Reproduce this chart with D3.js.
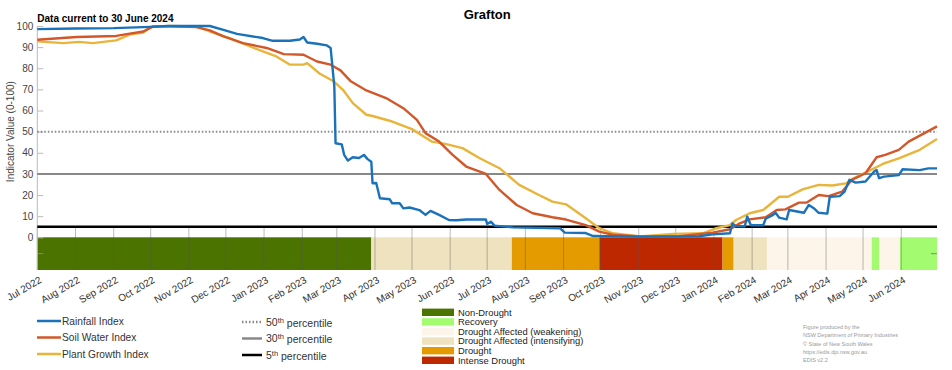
<!DOCTYPE html>
<html>
<head>
<meta charset="utf-8">
<script src="https://cdn.jsdelivr.net/npm/d3@7"></script>
<style>
  body { margin: 0; background: #fff; }
  svg { font-family: "Liberation Sans", Arial, sans-serif; }
</style>
</head>
<body>
<svg id="chart" width="952" height="370"></svg>
<script>
// data
const rainfall = [
  ["2022-07-01", 98.5], ["2022-08-01", 98.8], ["2022-09-01", 99.0], ["2022-10-01", 99.6],
  ["2022-10-15", 100], ["2022-11-18", 100], ["2022-11-29", 98.2], ["2022-12-10", 96.3],
  ["2022-12-31", 94.3], ["2023-01-08", 93.0], ["2023-01-22", 93.0], ["2023-01-30", 93.6],
  ["2023-02-02", 94.8], ["2023-02-05", 92.2], ["2023-02-13", 91.6], ["2023-02-21", 90.8],
  ["2023-02-24", 89.6], ["2023-02-27", 71.4], ["2023-02-28", 44.5], ["2023-03-05", 44.0],
  ["2023-03-07", 39.0], ["2023-03-10", 36.3], ["2023-03-14", 37.9], ["2023-03-19", 37.5],
  ["2023-03-23", 39.0], ["2023-03-26", 37.0], ["2023-03-29", 35.8], ["2023-03-30", 25.6],
  ["2023-04-02", 25.7], ["2023-04-05", 18.5], ["2023-04-13", 18.0], ["2023-04-15", 16.1],
  ["2023-04-21", 16.1], ["2023-04-24", 13.7], ["2023-04-29", 14.1], ["2023-05-07", 12.9],
  ["2023-05-12", 10.6], ["2023-05-16", 12.5], ["2023-05-23", 10.6], ["2023-05-31", 8.2],
  ["2023-06-06", 8.1], ["2023-06-14", 8.4], ["2023-06-30", 8.4], ["2023-07-01", 6.3],
  ["2023-07-04", 7.4], ["2023-07-07", 5.5], ["2023-07-22", 4.7], ["2023-08-29", 4.3],
  ["2023-09-02", 2.2], ["2023-09-19", 2.0], ["2023-09-25", 0.6], ["2023-11-02", 0.3],
  ["2023-12-20", 0.5], ["2023-12-31", 1.4], ["2024-01-14", 1.9], ["2024-01-16", 6.6],
  ["2024-01-19", 5.2], ["2024-01-26", 5.2], ["2024-01-28", 9.8], ["2024-01-31", 5.7],
  ["2024-02-10", 5.7], ["2024-02-12", 8.8], ["2024-02-18", 10.6], ["2024-02-20", 11.6],
  ["2024-02-23", 9.3], ["2024-02-29", 8.5], ["2024-03-02", 12.9], ["2024-03-14", 11.6],
  ["2024-03-18", 15.3], ["2024-03-22", 13.8], ["2024-03-26", 11.6], ["2024-04-02", 11.2],
  ["2024-04-04", 19.2], ["2024-04-12", 19.5], ["2024-04-16", 21.6], ["2024-04-20", 27.2],
  ["2024-04-25", 25.9], ["2024-05-03", 26.4], ["2024-05-10", 31.1], ["2024-05-12", 31.8],
  ["2024-05-14", 28.0], ["2024-05-18", 28.7], ["2024-05-30", 29.4], ["2024-06-02", 32.2],
  ["2024-06-16", 31.8], ["2024-06-23", 32.6], ["2024-06-30", 32.6]
];

const soilWater = [
  ["2022-07-01", 93.5], ["2022-08-02", 94.8], ["2022-09-03", 95.3], ["2022-09-14", 96.4],
  ["2022-09-25", 97.4], ["2022-10-03", 99.8], ["2022-10-16", 99.8], ["2022-11-07", 99.5],
  ["2022-11-18", 97.9], ["2022-11-29", 95.1], ["2022-12-15", 91.9], ["2023-01-03", 89.6],
  ["2023-01-17", 86.7], ["2023-02-02", 86.4], ["2023-02-13", 83.2], ["2023-02-24", 81.7],
  ["2023-03-04", 79.0], ["2023-03-12", 74.0], ["2023-03-25", 69.5], ["2023-04-10", 65.9],
  ["2023-04-24", 61.1], ["2023-05-05", 55.6], ["2023-05-12", 49.3], ["2023-05-23", 45.3],
  ["2023-06-03", 39.0], ["2023-06-14", 33.5], ["2023-06-30", 30.0], ["2023-07-11", 22.4],
  ["2023-07-25", 15.3], ["2023-08-07", 11.4], ["2023-08-23", 9.5], ["2023-09-03", 8.4],
  ["2023-09-19", 5.8], ["2023-09-30", 2.7], ["2023-10-11", 1.2], ["2023-11-02", 0.4],
  ["2023-12-04", 0.5], ["2023-12-31", 2.2], ["2024-01-14", 3.8], ["2024-01-22", 6.6],
  ["2024-01-30", 8.5], ["2024-02-12", 9.5], ["2024-02-21", 12.9], ["2024-02-28", 13.2],
  ["2024-03-10", 16.4], ["2024-03-16", 16.4], ["2024-03-26", 20.0], ["2024-04-03", 19.5],
  ["2024-04-14", 21.6], ["2024-04-22", 27.2], ["2024-05-03", 30.3], ["2024-05-12", 37.9],
  ["2024-05-19", 39.0], ["2024-05-30", 41.4], ["2024-06-07", 45.3], ["2024-06-30", 52.5]
];

const plantGrowth = [
  ["2022-07-01", 92.7], ["2022-07-22", 91.9], ["2022-08-04", 92.5], ["2022-08-15", 91.9],
  ["2022-09-03", 93.2], ["2022-09-14", 95.9], ["2022-09-25", 96.9], ["2022-10-01", 99.5],
  ["2022-10-16", 100], ["2022-11-07", 99.8], ["2022-11-18", 97.4], ["2022-12-04", 94.3],
  ["2022-12-15", 91.6], ["2022-12-31", 88.0], ["2023-01-11", 85.6], ["2023-01-22", 81.7],
  ["2023-02-02", 81.7], ["2023-02-05", 82.4], ["2023-02-15", 77.5], ["2023-02-26", 74.0],
  ["2023-03-06", 69.8], ["2023-03-14", 63.5], ["2023-03-25", 58.0], ["2023-03-30", 57.4],
  ["2023-04-15", 54.8], ["2023-05-01", 51.2], ["2023-05-17", 45.3], ["2023-05-28", 44.2],
  ["2023-06-11", 42.2], ["2023-06-25", 37.4], ["2023-07-11", 32.7], ["2023-07-27", 24.8],
  ["2023-08-12", 20.0], ["2023-08-23", 16.9], ["2023-09-03", 15.6], ["2023-09-19", 9.0],
  ["2023-09-30", 4.3], ["2023-10-11", 1.9], ["2023-11-02", 0.4], ["2023-11-29", 1.6],
  ["2023-12-23", 1.9], ["2024-01-03", 4.3], ["2024-01-14", 5.8], ["2024-01-19", 8.2],
  ["2024-01-30", 11.4], ["2024-02-10", 12.9], ["2024-02-23", 19.2], ["2024-03-01", 19.2],
  ["2024-03-13", 22.7], ["2024-03-26", 24.8], ["2024-04-06", 24.5], ["2024-04-17", 25.5],
  ["2024-04-22", 27.5], ["2024-05-03", 30.6], ["2024-05-17", 34.7], ["2024-05-30", 37.4],
  ["2024-06-16", 41.4], ["2024-06-30", 46.5]
];

// drought status periods [start, end, category]
const droughtPeriods = [
  ["2022-07-01", "2023-03-29", "Non-Drought"],
  ["2023-03-29", "2023-07-21", "Drought Affected (intensifying)"],
  ["2023-07-21", "2023-09-30", "Drought"],
  ["2023-09-30", "2024-01-08", "Intense Drought"],
  ["2024-01-08", "2024-01-17", "Drought"],
  ["2024-01-17", "2024-02-13", "Drought Affected (intensifying)"],
  ["2024-02-13", "2024-05-08", "Drought Affected (weakening)"],
  ["2024-05-08", "2024-05-14", "Recovery"],
  ["2024-05-14", "2024-05-31", "Drought Affected (weakening)"],
  ["2024-05-31", "2024-06-30", "Recovery"]
];

const droughtCategories = ["Non-Drought", "Recovery", "Drought Affected (weakening)",
  "Drought Affected (intensifying)", "Drought", "Intense Drought"];
const droughtColours = ["#4b7300", "#a3fb70", "#fdf5e9", "#efe2bf", "#e49b00", "#be2800"];

const percentiles = [50, 30, 5];
const yTicks = [0, 10, 20, 30, 40, 50, 60, 70, 80, 90, 100];
const credits = ["Figure produced by the", "NSW Department of Primary Industries",
  "\u00a9 State of New South Wales", "https://edis.dpi.nsw.gov.au", "EDIS v2.2"];

const parse = d3.timeParse("%Y-%m-%d");
const svg = d3.select("#chart");

const margin = {left: 37.3, right: 15, top: 26, plotBottom: 237.3, bandBottom: 270};

const x = d3.scaleTime()
  .domain([parse("2022-07-01"), parse("2024-06-30")])
  .range([margin.left, 952 - margin.right]);
const y = d3.scaleLinear().domain([0, 100]).range([margin.plotBottom, margin.top]);
const colour = d3.scaleOrdinal().domain(droughtCategories).range(droughtColours);

// drought band
svg.append("g").selectAll("rect")
  .data(droughtPeriods)
  .join("rect")
  .attr("x", d => x(parse(d[0])))
  .attr("width", d => x(parse(d[1])) - x(parse(d[0])))
  .attr("y", margin.plotBottom)
  .attr("height", margin.bandBottom - margin.plotBottom)
  .attr("fill", d => colour(d[2]));

// month grid lines through the band
const months = d3.timeMonth.range(parse("2022-07-01"), parse("2024-07-01"));
svg.append("g").selectAll("line")
  .data(months)
  .join("line")
  .attr("x1", d => x(d)).attr("x2", d => x(d))
  .attr("y1", y(5)).attr("y2", margin.bandBottom)
  .attr("stroke", "#555").attr("stroke-opacity", 0.4).attr("stroke-width", 1);

// small ticks in the band
[x.range()[0], x.range()[1]].forEach((px, i) => {
  svg.append("line")
    .attr("x1", px).attr("x2", i ? px - 6 : px + 6)
    .attr("y1", (margin.plotBottom + margin.bandBottom) / 2)
    .attr("y2", (margin.plotBottom + margin.bandBottom) / 2)
    .attr("stroke", "#888");
});

// y axis
const yAxis = svg.append("g")
  .attr("transform", `translate(${margin.left},0)`)
  .call(d3.axisLeft(y).tickValues(yTicks).tickSize(-6).tickPadding(4));
yAxis.select(".domain").remove();
yAxis.selectAll(".tick line").attr("stroke", "#bbb");
yAxis.selectAll(".tick text").attr("fill", "#444").style("font-size", "10px");
svg.append("line")
  .attr("x1", margin.left).attr("x2", margin.left)
  .attr("y1", margin.top).attr("y2", margin.bandBottom)
  .attr("stroke", "#bbb");

// percentile lines
const pStyles = {50: {c: "#888", w: 2, dash: "1.5,2"}, 30: {c: "#888", w: 2, dash: null}, 5: {c: "#000", w: 2.5, dash: null}};
svg.append("g").selectAll("line")
  .data(percentiles)
  .join("line")
  .attr("x1", x.range()[0]).attr("x2", x.range()[1])
  .attr("y1", d => y(d)).attr("y2", d => y(d))
  .attr("stroke", d => pStyles[d].c)
  .attr("stroke-width", d => pStyles[d].w)
  .attr("stroke-dasharray", d => pStyles[d].dash);

// index lines
const line = d3.line().x(d => x(parse(d[0]))).y(d => y(d[1]));
const series = [
  {name: "Rainfall Index", data: rainfall, c: "#1a72bb"},
  {name: "Soil Water Index", data: soilWater, c: "#d2582a"},
  {name: "Plant Growth Index", data: plantGrowth, c: "#e9b43a"}
];
[series[2], series[1], series[0]].forEach(s => {
  svg.append("path")
    .datum(s.data)
    .attr("d", line)
    .attr("fill", "none")
    .attr("stroke", s.c)
    .attr("stroke-width", 2.4)
    .attr("stroke-linejoin", "round");
});

// x labels
svg.append("g").selectAll("text")
  .data(months)
  .join("text")
  .attr("transform", d => `translate(${x(d) + 5},${margin.bandBottom + 12}) rotate(-30)`)
  .attr("text-anchor", "end")
  .attr("fill", "#333")
  .style("font-size", "10px")
  .text(d3.timeFormat("%b %Y"));

// titles
svg.append("text").attr("x", (x.range()[0] + x.range()[1]) / 2).attr("y", 19)
  .attr("text-anchor", "middle").style("font-size", "13px").style("font-weight", "bold")
  .text("Grafton");
svg.append("text").attr("x", margin.left).attr("y", 21.5)
  .style("font-size", "10px").style("font-weight", "bold")
  .text("Data current to 30 June 2024");
svg.append("text")
  .attr("transform", `translate(14,${y(50)}) rotate(-90)`)
  .attr("text-anchor", "middle").attr("fill", "#444").style("font-size", "10px")
  .text("Indicator Value (0-100)");

// series legend
const leg1 = svg.append("g").selectAll("g").data(series).join("g")
  .attr("transform", (d, i) => `translate(37,${321 + i * 16.5})`);
leg1.append("line").attr("x1", 0).attr("x2", 24)
  .attr("stroke", d => d.c).attr("stroke-width", 2.5);
leg1.append("text").attr("x", 25).attr("dy", "0.35em")
  .attr("fill", "#333").style("font-size", "10.2px").text(d => d.name);

// percentile legend
const leg2 = svg.append("g").selectAll("g").data(percentiles).join("g")
  .attr("transform", (d, i) => `translate(242,${322 + i * 16.5})`);
leg2.append("line").attr("x1", 0).attr("x2", 20)
  .attr("stroke", d => pStyles[d].c).attr("stroke-width", 2.5)
  .attr("stroke-dasharray", d => pStyles[d].dash);
const t2 = leg2.append("text").attr("x", 24).attr("dy", "0.35em")
  .attr("fill", "#333").style("font-size", "10.5px");
t2.append("tspan").text(d => d);
t2.append("tspan").attr("dy", "-0.4em").style("font-size", "7.5px").text("th");
t2.append("tspan").attr("dy", "0.4em").text(" percentile");

// drought legend
const leg3 = svg.append("g").selectAll("g").data(droughtCategories).join("g")
  .attr("transform", (d, i) => `translate(422,${312.3 + i * 9.6})`);
leg3.append("rect").attr("x", 0).attr("y", -3.7).attr("width", 32).attr("height", 7.4)
  .attr("fill", d => colour(d));
leg3.append("text").attr("x", 36).attr("dy", "0.35em")
  .attr("fill", "#222").style("font-size", "9.4px").text(d => d);

// credits
svg.append("g").selectAll("text").data(credits).join("text")
  .attr("x", 803).attr("y", (d, i) => 329 + i * 8.3)
  .attr("fill", "#999").style("font-size", "5.5px").text(d => d);
</script>
</body>
</html>
